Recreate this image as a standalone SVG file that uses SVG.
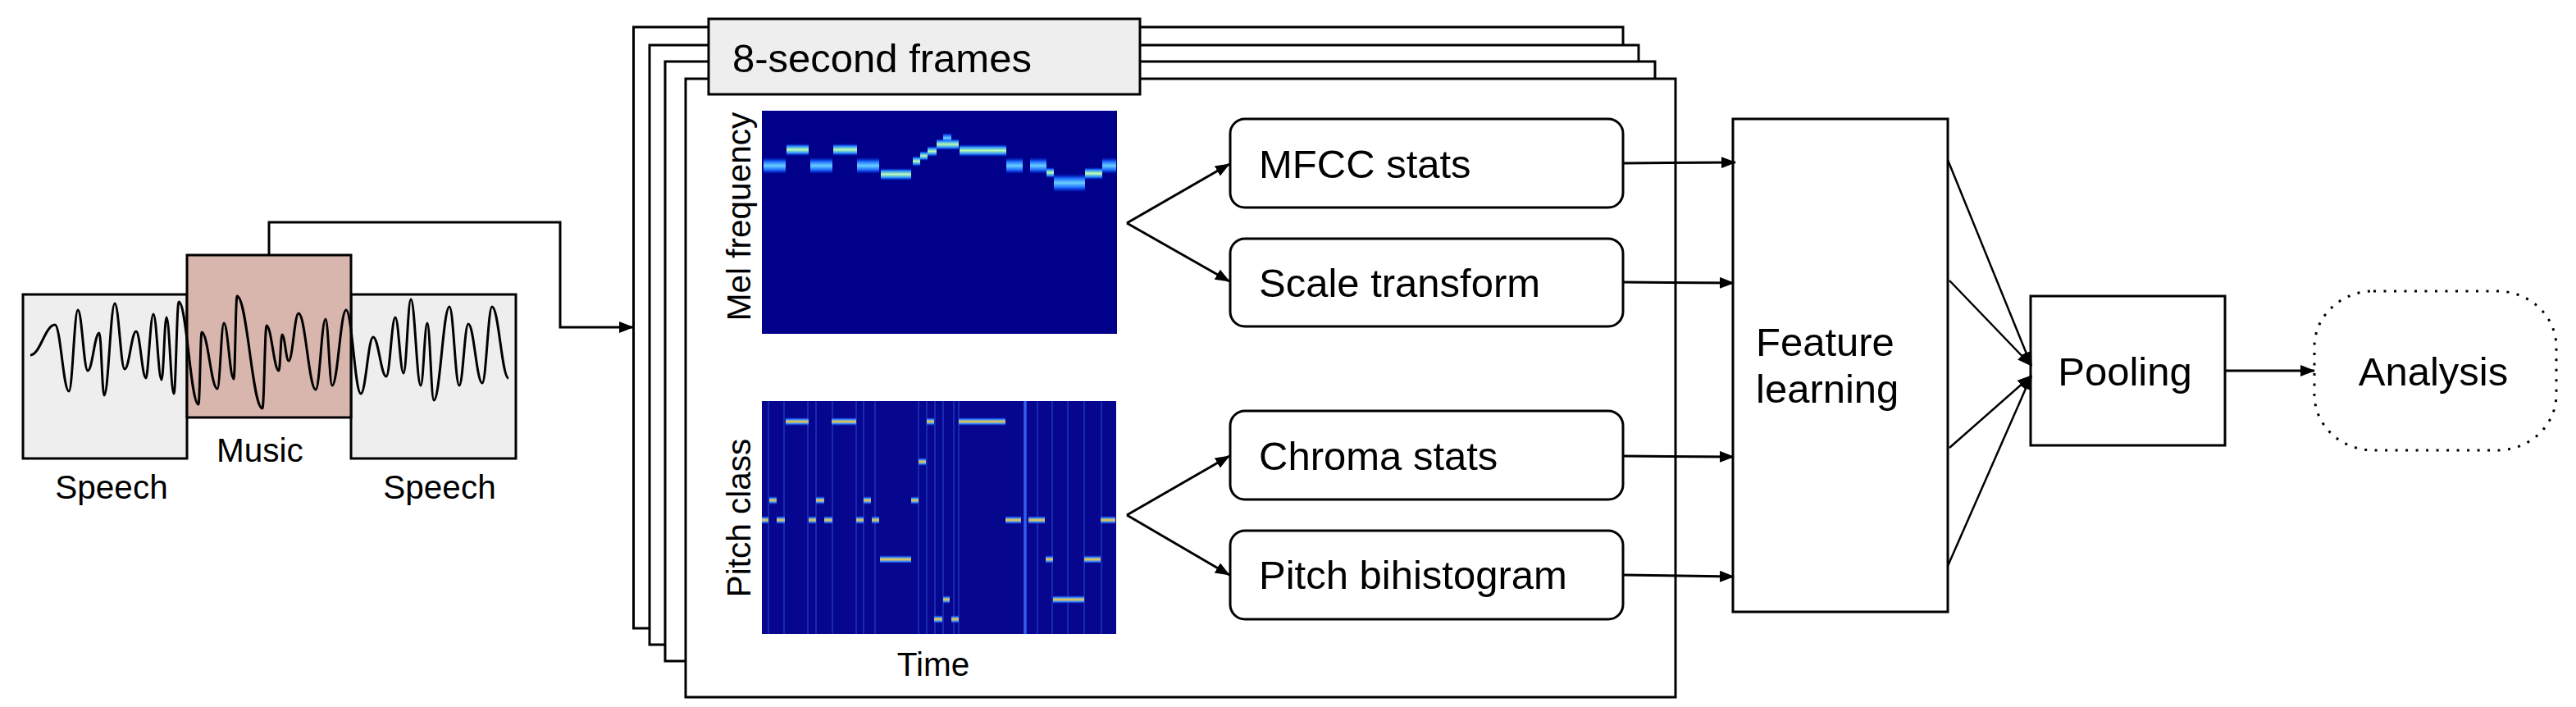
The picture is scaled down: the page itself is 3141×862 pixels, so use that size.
<svg xmlns="http://www.w3.org/2000/svg" width="3141" height="862" viewBox="0 0 3141 862">
<style>
text{font-family:"Liberation Sans",Arial,sans-serif;fill:#000}
.lg{font-size:49px}
.sm{font-size:40.5px}
.box{fill:#fff;stroke:#000;stroke-width:3}
.frame{fill:#fff;stroke:#000;stroke-width:3}
.ln{fill:none;stroke:#000;stroke-width:3}
.thin{fill:none;stroke:#000;stroke-width:2.5}
.streak{stroke:#3f7dff;stroke-width:1.5;opacity:0.4}
</style>
<defs>
<marker id="ah" viewBox="0 0 18 14" refX="17" refY="7" markerWidth="18" markerHeight="14" markerUnits="userSpaceOnUse" orient="auto">
<path d="M0,0 L18,7 L0,14 z" fill="#000"/>
</marker>
<linearGradient id="blobL" x1="0" y1="0" x2="0" y2="1">
<stop offset="0" stop-color="#0040ff" stop-opacity="0"/>
<stop offset="0.22" stop-color="#2a8cff"/>
<stop offset="0.5" stop-color="#b8ffb0"/>
<stop offset="0.78" stop-color="#2a8cff"/>
<stop offset="1" stop-color="#0040ff" stop-opacity="0"/>
</linearGradient>
<linearGradient id="blobB" x1="0" y1="0" x2="0" y2="1">
<stop offset="0" stop-color="#0040ff" stop-opacity="0"/>
<stop offset="0.25" stop-color="#1f6fff"/>
<stop offset="0.5" stop-color="#6ad0ff"/>
<stop offset="0.75" stop-color="#1f6fff"/>
<stop offset="1" stop-color="#0040ff" stop-opacity="0"/>
</linearGradient>
<linearGradient id="blobY" x1="0" y1="0" x2="0" y2="1">
<stop offset="0" stop-color="#1a4dff" stop-opacity="0"/>
<stop offset="0.25" stop-color="#3a8aff"/>
<stop offset="0.5" stop-color="#ffcf3a"/>
<stop offset="0.75" stop-color="#3a8aff"/>
<stop offset="1" stop-color="#1a4dff" stop-opacity="0"/>
</linearGradient>
</defs>
<rect width="3141" height="862" fill="#fff"/>

<g id="audio">
<rect x="28" y="359" width="200" height="200" fill="#eeeeee" stroke="#000" stroke-width="3"/>
<rect x="428" y="359" width="201" height="200" fill="#eeeeee" stroke="#000" stroke-width="3"/>
<rect x="228" y="311" width="200" height="198" fill="#d8b6ae" stroke="#000" stroke-width="3"/>
<path class="ln" d="M37,433 C49,433 55,396 67,396 C73.8,396 77.2,477 84,477 C88.4,477 90.6,378 95,378 C99.8,378 102.2,452 107,452 C112.6,452 115.4,406 121,406 C123.4,406 124.6,482 127,482 C132.2,482 134.8,370 140,370 C144.8,370 147.2,450 152,450 C157.6,450 160.4,404 166,404 C170.8,404 173.2,461 178,461 C180.6,461 183.4,383 187,383 C191,383 193,463 197,463 C199.4,463 200.6,387 203,387 C206.6,387 208.4,480 212,480 C214.4,480 215.6,368 218,368 C227.6,368 232.4,493 242,493 C243.6,493 244.4,405 246,405 C253.6,405 257.4,474 265,474 C268.2,474 269.8,394 273,394 C277.8,394 280.2,462 285,462 C286.6,462 287.4,361 289,361 C301.4,361 307.6,498 320,498 C322,498 323,397 325,397 C331,397 334,452 340,452 C341.6,452 342.4,408 344,408 C347.2,408 348.8,440 352,440 C356.8,440 359.2,382 364,382 C372.4,382 376.6,475 385,475 C389.8,475 392.2,389 397,389 C400.2,389 401.8,470 405,470 C411.8,470 415.2,378 422,378 C429.2,378 432.8,480 440,480 C446,480 449,411 455,411 C461.4,411 464.6,459 471,459 C475.4,459 477.6,387 482,387 C486,387 488,455 492,455 C495.6,455 497.4,365 501,365 C505.8,365 508.2,470 513,470 C516.2,470 517.8,394 521,394 C524.2,394 525.8,488 529,488 C536.6,488 540.4,374 548,374 C552.8,374 555.2,470 560,470 C564.4,470 566.6,395 571,395 C577.8,395 581.2,467 588,467 C592.8,467 595.2,374 600,374 C608,374 612,461 620,461"/>
<text class="sm" x="136" y="608" text-anchor="middle">Speech</text>
<text class="sm" x="317" y="563" text-anchor="middle">Music</text>
<text class="sm" x="536" y="608" text-anchor="middle">Speech</text>
</g>

<g id="frames">
<rect class="frame" x="772.5" y="33" width="1206.5" height="733"/>
<rect class="frame" x="792" y="55" width="1206" height="731"/>
<rect class="frame" x="811" y="75" width="1207" height="731"/>
<rect class="frame" x="836" y="96" width="1207" height="754"/>
<rect x="864" y="23" width="526" height="92" fill="#eeeeee" stroke="#000" stroke-width="3"/>
<text class="lg" x="893" y="88">8-second frames</text>
</g>

<g id="mel-spectrogram">
<rect x="929" y="135" width="433" height="272" fill="#00008a"/>
<rect x="931" y="192" width="27" height="20" fill="url(#blobB)"/>
<rect x="959" y="175" width="27" height="15" fill="url(#blobL)"/>
<rect x="988" y="192" width="27" height="20" fill="url(#blobB)"/>
<rect x="1016" y="175" width="29" height="15" fill="url(#blobL)"/>
<rect x="1045" y="192" width="27" height="20" fill="url(#blobB)"/>
<rect x="1074" y="205" width="37" height="15" fill="url(#blobL)"/>
<rect x="1113" y="190" width="9" height="13" fill="url(#blobL)"/>
<rect x="1122" y="184" width="9" height="12" fill="url(#blobL)"/>
<rect x="1131" y="178" width="11" height="13" fill="url(#blobL)"/>
<rect x="1150" y="162" width="10" height="13" fill="url(#blobB)"/>
<rect x="1142" y="169" width="27" height="14" fill="url(#blobL)"/>
<rect x="1170" y="176" width="57" height="15" fill="url(#blobL)"/>
<rect x="1227" y="192" width="20" height="20" fill="url(#blobB)"/>
<rect x="1256" y="192" width="20" height="20" fill="url(#blobB)"/>
<rect x="1276" y="204" width="9" height="13" fill="url(#blobL)"/>
<rect x="1285" y="212" width="38" height="22" fill="url(#blobB)"/>
<rect x="1323" y="204" width="21" height="15" fill="url(#blobL)"/>
<rect x="1344" y="192" width="17" height="20" fill="url(#blobB)"/>
<text class="sm" transform="translate(915,264) rotate(-90)" text-anchor="middle">Mel frequency</text>
</g>

<g id="pitch-spectrogram">
<rect x="929" y="489" width="432" height="284" fill="#06068e"/>
<g>
<line class="streak" x1="937" y1="489" x2="937" y2="773"/>
<line class="streak" x1="956" y1="489" x2="956" y2="773"/>
<line class="streak" x1="985" y1="489" x2="985" y2="773"/>
<line class="streak" x1="995" y1="489" x2="995" y2="773"/>
<line class="streak" x1="1015" y1="489" x2="1015" y2="773"/>
<line class="streak" x1="1044" y1="489" x2="1044" y2="773"/>
<line class="streak" x1="1053" y1="489" x2="1053" y2="773"/>
<line class="streak" x1="1067" y1="489" x2="1067" y2="773"/>
<line class="streak" x1="1120" y1="489" x2="1120" y2="773"/>
<line class="streak" x1="1130" y1="489" x2="1130" y2="773"/>
<line class="streak" x1="1140" y1="489" x2="1140" y2="773"/>
<line class="streak" x1="1150" y1="489" x2="1150" y2="773"/>
<line class="streak" x1="1163" y1="489" x2="1163" y2="773"/>
<line class="streak" x1="1169" y1="489" x2="1169" y2="773"/>
<line class="streak" x1="1265" y1="489" x2="1265" y2="773"/>
<line class="streak" x1="1283" y1="489" x2="1283" y2="773"/>
<line class="streak" x1="1302" y1="489" x2="1302" y2="773"/>
<line class="streak" x1="1322" y1="489" x2="1322" y2="773"/>
<line class="streak" x1="1343" y1="489" x2="1343" y2="773"/>
<line x1="1250" y1="489" x2="1250" y2="773" stroke="#3a70ff" stroke-width="3.5" opacity="0.85"/>
</g>
<g>
<rect x="958" y="509" width="28" height="10" fill="url(#blobY)"/>
<rect x="1014" y="509" width="30" height="10" fill="url(#blobY)"/>
<rect x="1130" y="509" width="9" height="10" fill="url(#blobY)"/>
<rect x="1169" y="509" width="57" height="10" fill="url(#blobY)"/>
<rect x="1120" y="558" width="9" height="10" fill="url(#blobY)"/>
<rect x="938" y="605" width="9" height="10" fill="url(#blobY)"/>
<rect x="995" y="605" width="10" height="10" fill="url(#blobY)"/>
<rect x="1053" y="605" width="9" height="10" fill="url(#blobY)"/>
<rect x="1111" y="605" width="9" height="10" fill="url(#blobY)"/>
<rect x="929" y="629" width="8" height="10" fill="url(#blobY)"/>
<rect x="947" y="629" width="10" height="10" fill="url(#blobY)"/>
<rect x="986" y="629" width="9" height="10" fill="url(#blobY)"/>
<rect x="1005" y="629" width="10" height="10" fill="url(#blobY)"/>
<rect x="1044" y="629" width="9" height="10" fill="url(#blobY)"/>
<rect x="1063" y="629" width="9" height="10" fill="url(#blobY)"/>
<rect x="1226" y="629" width="19" height="10" fill="url(#blobY)"/>
<rect x="1254" y="629" width="20" height="10" fill="url(#blobY)"/>
<rect x="1342" y="629" width="18" height="10" fill="url(#blobY)"/>
<rect x="1073" y="677" width="38" height="10" fill="url(#blobY)"/>
<rect x="1275" y="677" width="9" height="10" fill="url(#blobY)"/>
<rect x="1322" y="677" width="20" height="10" fill="url(#blobY)"/>
<rect x="1150" y="726" width="8" height="10" fill="url(#blobY)"/>
<rect x="1284" y="726" width="38" height="10" fill="url(#blobY)"/>
<rect x="1139" y="750" width="10" height="10" fill="url(#blobY)"/>
<rect x="1160" y="750" width="9" height="10" fill="url(#blobY)"/>
</g>
<text class="sm" transform="translate(915,631.5) rotate(-90)" text-anchor="middle">Pitch class</text>
<text class="sm" x="1138" y="824" text-anchor="middle">Time</text>
</g>

<g id="mfcc-stats">
<rect class="box" x="1500" y="145" width="479" height="108" rx="18"/>
<text class="lg" x="1535" y="217">MFCC stats</text>
</g>
<g id="scale-transform">
<rect class="box" x="1500" y="291" width="479" height="107" rx="18"/>
<text class="lg" x="1535" y="362">Scale transform</text>
</g>
<g id="chroma-stats">
<rect class="box" x="1500" y="501" width="479" height="108" rx="18"/>
<text class="lg" x="1535" y="573">Chroma stats</text>
</g>
<g id="pitch-bihistogram">
<rect class="box" x="1500" y="647" width="479" height="108" rx="18"/>
<text class="lg" x="1535" y="718">Pitch bihistogram</text>
</g>

<g id="feature-learning">
<rect class="box" x="2113" y="145" width="262" height="601"/>
<text class="lg" x="2141" y="434">Feature</text>
<text class="lg" x="2141" y="491">learning</text>
</g>

<g id="pooling">
<rect class="box" x="2476" y="361" width="237" height="182"/>
<text class="lg" x="2591" y="470" text-anchor="middle">Pooling</text>
</g>

<g id="analysis">
<rect x="2822" y="355" width="295" height="194" rx="72" ry="68" fill="none" stroke="#000" stroke-width="3" stroke-dasharray="3 9.5"/>
<text class="lg" x="2967" y="470" text-anchor="middle">Analysis</text>
</g>

<g id="connectors">
<path class="ln" d="M328,311 V271 H683 V399 H772" marker-end="url(#ah)"/>
<line class="ln" x1="1374" y1="272" x2="1499" y2="200" marker-end="url(#ah)"/>
<line class="ln" x1="1374" y1="272" x2="1499" y2="343" marker-end="url(#ah)"/>
<line class="ln" x1="1374" y1="628" x2="1499" y2="556" marker-end="url(#ah)"/>
<line class="ln" x1="1374" y1="628" x2="1499" y2="701" marker-end="url(#ah)"/>
<line class="ln" x1="1979" y1="199" x2="2116" y2="198" marker-end="url(#ah)"/>
<line class="ln" x1="1979" y1="344" x2="2114" y2="345" marker-end="url(#ah)"/>
<line class="ln" x1="1979" y1="556" x2="2114" y2="557" marker-end="url(#ah)"/>
<line class="ln" x1="1979" y1="701" x2="2114" y2="703" marker-end="url(#ah)"/>
<line class="thin" x1="2375" y1="195" x2="2477" y2="446" marker-end="url(#ah)"/>
<line class="thin" x1="2377" y1="342" x2="2477" y2="446" marker-end="url(#ah)"/>
<line class="thin" x1="2377" y1="546" x2="2477" y2="458" marker-end="url(#ah)"/>
<line class="thin" x1="2375" y1="690" x2="2477" y2="458" marker-end="url(#ah)"/>
<line class="ln" x1="2713" y1="452" x2="2822" y2="452" marker-end="url(#ah)"/>
</g>
</svg>
